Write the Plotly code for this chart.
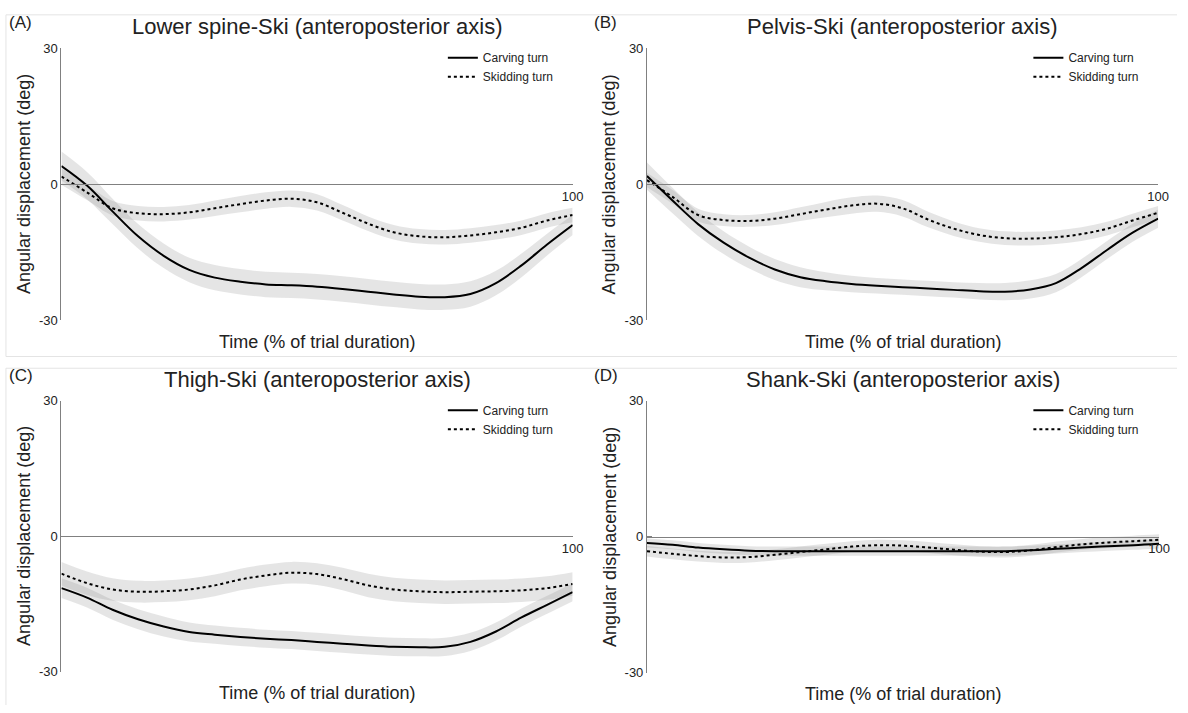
import plotly.graph_objects as go

W, H = 1188, 713

# ---------------- data ----------------
time_pct = [0, 5, 10, 15, 20, 25, 30, 35, 40, 45, 50, 55, 60, 65, 70, 75, 80, 85, 90, 95, 100]

titles = ["Lower spine-Ski (anteroposterior axis)",
          "Pelvis-Ski (anteroposterior axis)",
          "Thigh-Ski (anteroposterior axis)",
          "Shank-Ski (anteroposterior axis)"]
panel_letters = ["(A)", "(B)", "(C)", "(D)"]
series_names = ["Carving turn", "Skidding turn"]
y_tick_vals = [-30, 0, 30]
y_tick_text = ["-30", "0", "30"]
x_tick_vals = [100]
x_tick_text = ["100"]

# Panel A - lower spine
a_carving = [4.0, -0.3, -6.0, -11.5, -15.8, -18.9, -20.6, -21.5, -22.1, -22.3, -22.6,
             -23.1, -23.7, -24.3, -24.8, -24.9, -24.2, -21.8, -17.9, -13.3, -9.0]
a_carving_sd = [3.2, 3.0, 2.8, 2.7, 2.7, 2.7, 2.8, 2.8, 2.8, 2.8, 2.8,
                2.8, 2.8, 2.8, 2.8, 2.8, 2.8, 2.7, 2.6, 2.4, 2.2]
a_skidding = [1.7, -1.8, -5.3, -6.4, -6.6, -6.2, -5.3, -4.4, -3.6, -3.2, -4.0,
              -6.3, -8.7, -10.6, -11.5, -11.7, -11.3, -10.6, -9.6, -8.0, -6.8]
a_skidding_sd = [1.8, 1.7, 1.6, 1.6, 1.6, 1.6, 1.7, 1.8, 1.8, 1.8, 1.8,
                 1.7, 1.6, 1.6, 1.6, 1.6, 1.6, 1.6, 1.6, 1.6, 1.6]

# Panel B - pelvis
b_carving = [1.8, -3.6, -8.8, -12.9, -16.2, -18.8, -20.5, -21.4, -22.0, -22.4, -22.7,
             -23.0, -23.3, -23.6, -23.7, -23.2, -21.8, -18.5, -14.5, -10.7, -7.6]
b_carving_sd = [3.0, 2.8, 2.6, 2.5, 2.4, 2.3, 2.2, 2.0, 1.8, 1.7, 1.7,
                1.7, 1.7, 1.8, 1.9, 2.0, 2.0, 2.0, 2.0, 2.0, 2.0]
b_skidding = [0.9, -2.8, -6.8, -7.9, -8.1, -7.6, -6.6, -5.6, -4.7, -4.3, -5.3,
              -7.8, -9.8, -11.2, -11.9, -12.0, -11.7, -11.0, -9.8, -8.0, -6.3]
b_skidding_sd = [1.6, 1.5, 1.4, 1.3, 1.3, 1.4, 1.5, 1.7, 1.8, 1.8, 1.8,
                 1.7, 1.6, 1.5, 1.5, 1.5, 1.5, 1.5, 1.5, 1.5, 1.5]

# Panel C - thigh
c_carving = [-11.5, -13.6, -16.3, -18.4, -20.0, -21.2, -21.8, -22.3, -22.7, -23.0, -23.4,
             -23.8, -24.2, -24.5, -24.6, -24.5, -23.4, -21.1, -18.0, -15.2, -12.4]
c_carving_sd = [2.2, 2.2, 2.2, 2.2, 2.2, 2.1, 2.0, 2.0, 2.0, 2.0, 2.0,
                2.0, 2.0, 2.0, 2.0, 2.0, 2.0, 2.0, 2.0, 2.0, 2.0]
c_skidding = [-8.3, -10.4, -11.8, -12.3, -12.2, -11.8, -10.9, -9.6, -8.7, -8.1, -8.4,
              -9.5, -10.9, -11.8, -12.2, -12.4, -12.3, -12.2, -12.0, -11.5, -10.6]
c_skidding_sd = [2.6, 2.6, 2.5, 2.4, 2.4, 2.4, 2.4, 2.4, 2.4, 2.4, 2.4,
                 2.5, 2.6, 2.6, 2.6, 2.6, 2.6, 2.6, 2.6, 2.6, 2.6]

# Panel D - shank
d_carving = [-1.4, -1.8, -2.4, -2.8, -3.1, -3.2, -3.2, -3.2, -3.2, -3.2, -3.2,
             -3.2, -3.2, -3.2, -3.2, -3.0, -2.7, -2.4, -2.1, -1.9, -1.6]
d_carving_sd = [1.0, 1.0, 1.0, 1.0, 1.0, 1.0, 1.0, 1.0, 1.0, 1.0, 1.0,
                1.0, 1.0, 1.0, 1.0, 1.0, 1.0, 1.0, 1.0, 1.0, 1.0]
d_skidding = [-3.2, -3.8, -4.3, -4.6, -4.5, -4.0, -3.4, -2.8, -2.2, -1.9, -2.0,
              -2.4, -2.9, -3.3, -3.4, -3.0, -2.3, -1.7, -1.3, -1.0, -0.7]
d_skidding_sd = [1.2, 1.2, 1.2, 1.2, 1.2, 1.2, 1.2, 1.2, 1.2, 1.2, 1.2,
                 1.2, 1.2, 1.2, 1.2, 1.2, 1.2, 1.2, 1.2, 1.2, 1.2]

panels = [
    (a_carving, a_carving_sd, a_skidding, a_skidding_sd),
    (b_carving, b_carving_sd, b_skidding, b_skidding_sd),
    (c_carving, c_carving_sd, c_skidding, c_skidding_sd),
    (d_carving, d_carving_sd, d_skidding, d_skidding_sd),
]

# ---------------- layout geometry (pixels) ----------------
# (x_left, x_right, y_top(+30), y_bottom(-30))
boxes = [(62, 578, 42, 320), (653, 1169, 42, 320),
         (62, 578, 402, 679), (653, 1170, 402, 680)]

FONT = "Liberation Sans, Arial, Helvetica, sans-serif"
BAND = "rgba(150,150,150,0.25)"
AXC = "#808080"

def px(x):
    return x / W

def py(y):
    return 1 - y / H

fig = go.Figure()
annotations = []
layout_axes = {}

for i, (box, data) in enumerate(zip(boxes, panels)):
    n = i + 1
    xa = "x" if n == 1 else f"x{n}"
    ya = "y" if n == 1 else f"y{n}"
    leg = "legend" if n == 1 else f"legend{n}"
    carving, carving_sd, skidding, skidding_sd = data

    for mean, sd in ((carving, carving_sd), (skidding, skidding_sd)):
        upper = [m + s for m, s in zip(mean, sd)]
        lower = [m - s for m, s in zip(mean, sd)]
        fig.add_trace(go.Scatter(x=time_pct, y=upper, mode="lines",
                                 line=dict(width=0, shape="spline"),
                                 showlegend=False, hoverinfo="skip",
                                 xaxis=xa, yaxis=ya))
        fig.add_trace(go.Scatter(x=time_pct, y=lower, mode="lines",
                                 line=dict(width=0, shape="spline"),
                                 fill="tonexty", fillcolor=BAND,
                                 showlegend=False, hoverinfo="skip",
                                 xaxis=xa, yaxis=ya))

    fig.add_trace(go.Scatter(x=time_pct, y=carving, mode="lines",
                             name=series_names[0],
                             line=dict(color="black", width=2, shape="spline"),
                             xaxis=xa, yaxis=ya, legend=leg))
    fig.add_trace(go.Scatter(x=time_pct, y=skidding, mode="lines",
                             name=series_names[1],
                             line=dict(color="black", width=2, dash="dot", shape="spline"),
                             xaxis=xa, yaxis=ya, legend=leg))

    xl, xr, yt, yb = box
    ydom = [py(yb), py(yt)]
    xdom = [px(xl), px(xr)]
    xkey = "xaxis" if n == 1 else f"xaxis{n}"
    ykey = "yaxis" if n == 1 else f"yaxis{n}"
    layout_axes[xkey] = dict(domain=xdom, range=[0, 100], anchor="free",
                             position=(ydom[0] + ydom[1]) / 2,
                             showline=True, linecolor=AXC, linewidth=1,
                             ticks="inside", ticklen=5, tickcolor=AXC,
                             tickvals=x_tick_vals, ticktext=x_tick_text,
                             tickfont=dict(size=13, color="#222", family=FONT),
                             showgrid=False, zeroline=False, fixedrange=True)
    layout_axes[ykey] = dict(domain=ydom, range=[-30, 30], anchor=xa,
                             showline=True, linecolor=AXC, linewidth=1,
                             ticks="inside", ticklen=5, tickcolor=AXC,
                             tickvals=y_tick_vals, ticktext=y_tick_text,
                             tickfont=dict(size=13, color="#222", family=FONT),
                             showgrid=False, zeroline=False, fixedrange=True)
    layout_axes[leg] = dict(x=px(xl + 385), y=py(yt - 5), xanchor="left", yanchor="top",
                            font=dict(size=12, color="#222", family=FONT),
                            bgcolor="rgba(0,0,0,0)", itemwidth=30,
                            traceorder="normal", tracegroupgap=0)

    cx = (xl + xr) / 2
    annotations.append(dict(text=titles[i], x=px(cx), y=py(yt - 22), xref="paper", yref="paper",
                            showarrow=False, xanchor="center", yanchor="middle",
                            font=dict(size=22, color="#222", family=FONT)))
    annotations.append(dict(text="Time (% of trial duration)", x=px(cx), y=py(yb + 22),
                            xref="paper", yref="paper", showarrow=False,
                            xanchor="center", yanchor="middle",
                            font=dict(size=18, color="#222", family=FONT)))
    annotations.append(dict(text="Angular displacement (deg)", x=px(xl - 38), y=py((yt + yb) / 2),
                            xref="paper", yref="paper", showarrow=False, textangle=-90,
                            xanchor="center", yanchor="middle",
                            font=dict(size=18, color="#222", family=FONT)))
    annotations.append(dict(text=panel_letters[i], x=px(xl - 55), y=py(yt - 26),
                            xref="paper", yref="paper", showarrow=False,
                            xanchor="left", yanchor="middle",
                            font=dict(size=17, color="#222", family=FONT)))

# faint figure borders
border = "#e4e4e4"
shapes = [
    dict(type="line", xref="paper", yref="paper", x0=px(6), x1=1, y0=py(8), y1=py(8), line=dict(color=border, width=1)),
    dict(type="line", xref="paper", yref="paper", x0=px(6), x1=1, y0=py(357), y1=py(357), line=dict(color=border, width=1)),
    dict(type="line", xref="paper", yref="paper", x0=px(6), x1=1, y0=py(369), y1=py(369), line=dict(color=border, width=1)),
    dict(type="line", xref="paper", yref="paper", x0=px(6), x1=px(6), y0=py(8), y1=py(357), line=dict(color=border, width=1)),
    dict(type="line", xref="paper", yref="paper", x0=px(6), x1=px(6), y0=py(369), y1=0, line=dict(color=border, width=1)),
]

fig.update_layout(width=W, height=H, margin=dict(l=0, r=0, t=0, b=0),
                  paper_bgcolor="white", plot_bgcolor="rgba(0,0,0,0)",
                  font=dict(family=FONT, color="#222"),
                  annotations=annotations, shapes=shapes, **layout_axes)

fig.write_html("out.html",
               config={"displayModeBar": False, "staticPlot": True},
               post_script="document.body.style.margin='0px';document.body.style.overflow='hidden';")
